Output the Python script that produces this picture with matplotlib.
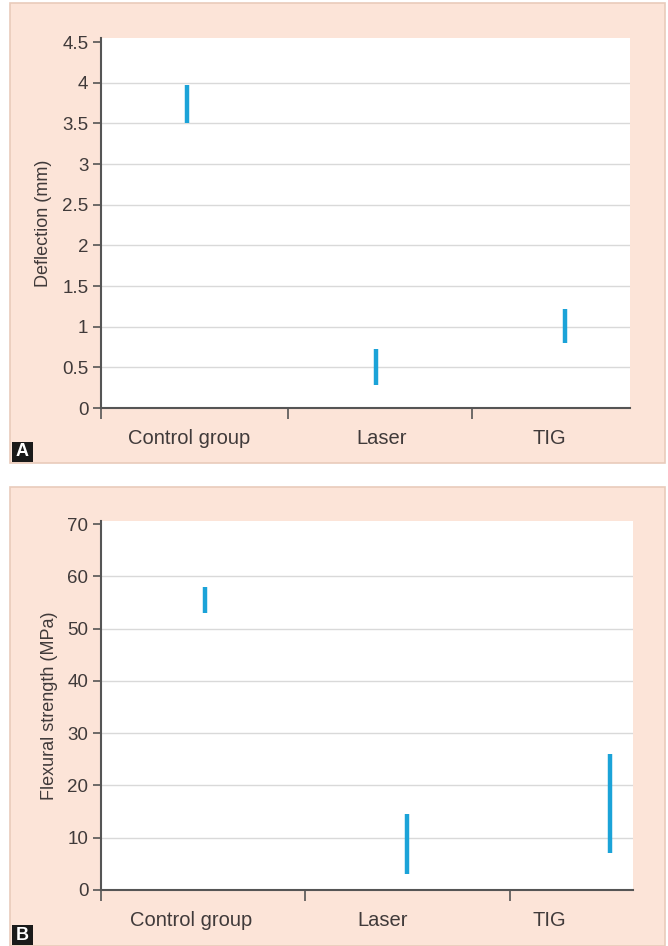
import matplotlib.pyplot as plt
import numpy as np
from matplotlib.patches import Rectangle

plt.rcParams['font.family'] = ['Liberation Sans', 'DejaVu Sans']

groups = ['Control group', 'Laser', 'TIG']

# panel A: deflection ranges (mm)
defl_low = [3.50, 0.28, 0.80]
defl_high = [3.97, 0.72, 1.22]

# panel B: flexural strength ranges (MPa)
flex_low = [53, 3, 7]
flex_high = [58, 14.5, 26]

peach = '#fce4d8'
edge = '#e9cbbb'
line_c = '#1ba3d8'
txt = '#403a3a'

fig = plt.figure(figsize=(6.68, 9.46), dpi=100)

# peach panels (behind the axes)
for y0, h in [(0.5106, 0.4862), (0.0, 0.4852)]:
    fig.patches.append(Rectangle((0.015, y0), 0.9805, h, transform=fig.transFigure,
                                 facecolor=peach, edgecolor=edge, lw=1.2, zorder=-5))


def panel(ax, low, high, ylim, yticks, yticklabels, ylabel, xlim, seps, labpos):
    ax.set_facecolor('white')
    x = np.arange(len(groups))
    ax.vlines(x, low, high, color=line_c, lw=3.2, zorder=3)
    ax.set_xlim(*xlim)
    ax.set_ylim(*ylim)
    ax.set_yticks(yticks)
    ax.set_yticklabels(yticklabels, fontsize=13.5, color=txt)
    for yv in yticks[1:-1]:
        ax.axhline(yv, color='#d9d9d9', lw=1, zorder=1)
    ax.set_xticks([xlim[0]] + seps)
    ax.set_xticklabels([])
    ax.tick_params(axis='x', length=8, width=1.2, color='#555555')
    ax.tick_params(axis='y', length=6, width=1.2, color='#555555', pad=3)
    ax.set_xticks(labpos, minor=True)
    ax.set_xticklabels(groups, minor=True, fontsize=14.5, color=txt)
    ax.tick_params(axis='x', which='minor', length=0, pad=15)
    for s in ['top', 'right']:
        ax.spines[s].set_visible(False)
    for s in ['left', 'bottom']:
        ax.spines[s].set_color('#555555')
        ax.spines[s].set_linewidth(1.5)
    ax.set_ylabel(ylabel, fontsize=13, color=txt, labelpad=7)


axA = fig.add_axes([0.151, 0.5687, 0.792, 0.3911])
panel(axA, defl_low, defl_high, (0, 4.55),
      [0, 0.5, 1, 1.5, 2, 2.5, 3, 3.5, 4, 4.5],
      ['0', '0.5', '1', '1.5', '2', '2.5', '3', '3.5', '4', '4.5'],
      'Deflection (mm)', (-0.455, 2.344), [0.534, 1.508], [0.01, 1.03, 1.915])

axB = fig.add_axes([0.151, 0.0592, 0.796, 0.3901])
panel(axB, flex_low, flex_high, (0, 70.6),
      [0, 10, 20, 30, 40, 50, 60, 70],
      ['0', '10', '20', '30', '40', '50', '60', '70'],
      'Flexural strength (MPa)', (-0.514, 2.114), [0.494, 1.506], [-0.07, 0.88, 1.70])

# panel letters
for lab, yb in [('A', 1 - 462 / 946), ('B', 1 - 945 / 946)]:
    fig.patches.append(Rectangle((12 / 668, yb), 21 / 668, 20 / 946, transform=fig.transFigure,
                                 facecolor='#1a1a1a', edgecolor='none', zorder=5))
    fig.text(22.5 / 668, yb + 10 / 946, lab, color='white', fontsize=13, fontweight='bold',
             ha='center', va='center', zorder=6)

fig.savefig('out.png', dpi=100)
